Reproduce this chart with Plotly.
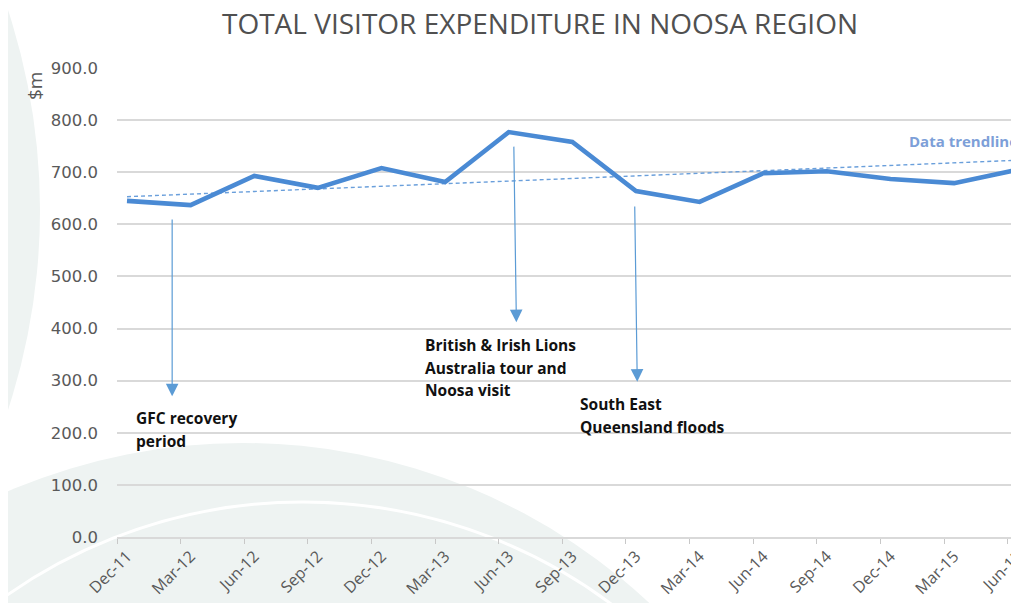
import plotly.graph_objects as go

# ---------------- data ----------------
quarters = ["Dec-11", "Mar-12", "Jun-12", "Sep-12", "Dec-12", "Mar-13", "Jun-13",
            "Sep-13", "Dec-13", "Mar-14", "Jun-14", "Sep-14", "Dec-14", "Mar-15", "Jun-15"]
expenditure_m = [645, 637, 693, 670, 708, 681, 777, 758, 664, 643, 698, 702, 687, 679, 705]
trend_quarters = ["Dec-11", "Jun-15"]
trend_values = [653, 723]
y_ticks = [0, 100, 200, 300, 400, 500, 600, 700, 800, 900]

gfc_lines = ["GFC recovery", "period"]
lions_lines = ["British & Irish Lions", "Australia tour and", "Noosa visit"]
floods_lines = ["South East", "Queensland floods"]

# ---------------- layout helpers ----------------
OFF = 8                      # page body margin
W, H = 1019 - OFF, 603 - OFF
L, T = 117 - OFF, 68 - OFF
B = H - (537 - OFF)
R = 0
PW, PH = W - L - R, H - T - B
STEP = 63.7  # px per quarter


def px(x):  # screen x -> paper
    return (x - OFF - L) / PW


def py(y):  # screen y -> paper
    return (H - B - (y - OFF)) / PH


x_idx = list(range(len(quarters)))
trend_x = [quarters.index(q) for q in trend_quarters]

fig = go.Figure()
fig.add_trace(go.Scatter(
    x=trend_x, y=trend_values, mode="lines",
    line=dict(color="#6a9fdb", width=1.4, dash="4px,3px"),
    hoverinfo="skip", showlegend=False))
fig.add_trace(go.Scatter(
    x=x_idx, y=expenditure_m, mode="lines",
    line=dict(color="#4a8ad4", width=4.6),
    showlegend=False))

bg = "#eef3f2"
shapes = [
    # left large circle
    dict(type="circle", xref="paper", yref="paper",
         x0=px(-1242), x1=px(40), y0=py(851), y1=py(-431),
         fillcolor=bg, line=dict(width=0), layer="below"),
    # bottom grey arc
    dict(type="circle", xref="paper", yref="paper",
         x0=px(243 - 596), x1=px(243 + 596), y0=py(443 + 1192), y1=py(443),
         fillcolor=bg, line=dict(width=0), layer="below"),
    # white arc line
    dict(type="circle", xref="paper", yref="paper",
         x0=px(303 - 516), x1=px(303 + 516), y0=py(502 + 1032), y1=py(502),
         fillcolor="rgba(0,0,0,0)", line=dict(color="white", width=3), layer="below"),
    # white label boxes covering gridlines
    dict(type="rect", xref="paper", yref="paper",
         x0=px(117), x1=px(260), y0=py(441), y1=py(396),
         fillcolor="white", line=dict(width=0), layer="between"),
    dict(type="rect", xref="paper", yref="paper",
         x0=px(405), x1=px(600), y0=py(406), y1=py(315),
         fillcolor="white", line=dict(width=0), layer="between"),
    dict(type="rect", xref="paper", yref="paper",
         x0=px(560), x1=px(755), y0=py(452), y1=py(389),
         fillcolor="white", line=dict(width=0), layer="between"),
]

annotations = []
lab_font = dict(family="Open Sans", size=15.5, color="#111111")


def add_lines(lines, x_left, y_first, gap=22.5):
    for i, t in enumerate(lines):
        annotations.append(dict(
            xref="paper", yref="paper", x=px(x_left), y=py(y_first + i * gap),
            xanchor="left", yanchor="middle", text="<b>%s</b>" % t,
            showarrow=False, font=lab_font))


add_lines(gfc_lines, 134, 418)
add_lines(lions_lines, 423, 345)
add_lines(floods_lines, 578, 404)

arrow_color = "#5b9bd5"
for x_tail, y_tail, x_head, y_head in [
    (0.71, 612, 0.71, 270),
    (6.08, 752, 6.12, 412),
    (7.98, 637, 8.02, 298),
]:
    annotations.append(dict(
        xref="x", yref="y", axref="x", ayref="y",
        x=x_head, y=y_head, ax=x_tail, ay=y_tail, text="",
        showarrow=True, arrowhead=2, arrowsize=2.1, arrowwidth=1.2,
        arrowcolor=arrow_color, standoff=0))

annotations.append(dict(
    xref="paper", yref="paper", x=px(907), y=py(141), xanchor="left", yanchor="middle",
    text="<b>Data trendline</b>", showarrow=False,
    font=dict(family="Open Sans", size=15, color="#7d9fd8")))
annotations.append(dict(
    xref="paper", yref="paper", x=px(35), y=py(86), xanchor="center", yanchor="middle",
    text="$m", textangle=-90, showarrow=False,
    font=dict(family="Open Sans", size=19, color="#595959")))

fig.update_layout(
    width=W, height=H,
    margin=dict(l=L, r=R, t=T, b=B, pad=0),
    paper_bgcolor="white", plot_bgcolor="rgba(0,0,0,0)",
    title=dict(text="TOTAL VISITOR EXPENDITURE IN NOOSA REGION",
               xref="container", yref="container", x=(540 - OFF) / W, y=1 - (24 - OFF) / H,
               xanchor="center", yanchor="middle",
               font=dict(family="Open Sans", size=28, color="#505050")),
    shapes=shapes, annotations=annotations,
    xaxis=dict(range=[-10 / STEP, 14.02], tickmode="array", tickvals=x_idx, ticktext=quarters,
               tickangle=-45, ticks="", showgrid=False, zeroline=False, automargin=False,
               showline=True, linecolor="#d9d9d9", linewidth=1.5, ticklabelstandoff=2,
               ticklabeloverflow="allow",
               tickfont=dict(family="Open Sans", size=16, color="#595959"),
               minor=dict(tickmode="linear", tick0=-10 / STEP, dtick=1, ticks="outside",
                          ticklen=5, tickcolor="#c8c8c8", tickwidth=1, showgrid=False)),
    yaxis=dict(range=[0, 900], tickmode="array", tickvals=y_ticks, tickformat=".1f",
               showgrid=True, gridcolor="#d9d9d9", gridwidth=1.5, zeroline=False,
               ticks="", ticklabelstandoff=18, automargin=False,
               tickfont=dict(family="DejaVu Sans", size=16.5, color="#595959")),
    showlegend=False,
)

fig.write_html("out.html")
